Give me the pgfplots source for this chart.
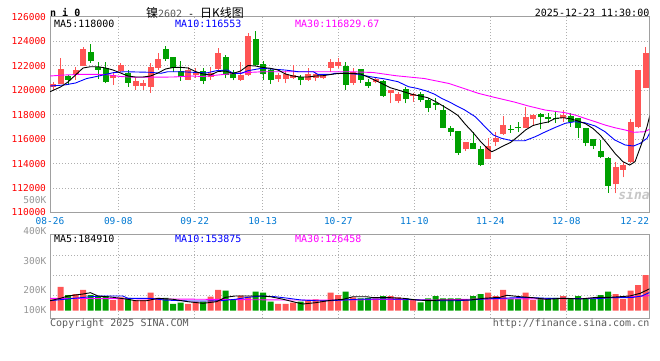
\documentclass[border=0pt]{standalone}
\usepackage{fontspec}
\setmainfont{DejaVu Sans Mono}
\newfontfamily\cjk{Noto Sans CJK SC}
\usepackage{pgfplots}
\usepackage{pgfplotstable}
\pgfplotsset{compat=1.18}
\definecolor{cred}{RGB}{255,85,85}
\definecolor{cgreen}{RGB}{0,160,0}
\definecolor{ticred}{RGB}{255,0,0}
\definecolor{datecol}{RGB}{0,120,210}
\definecolor{framegray}{RGB}{160,160,160}
\definecolor{gridgray}{RGB}{175,175,175}
\definecolor{volgray}{RGB}{150,150,150}
\definecolor{mablue}{RGB}{0,0,255}
\definecolor{mamag}{RGB}{255,0,255}
\definecolor{txtgray}{RGB}{90,90,90}

\pgfplotstableread{
x o h l c
0 120265 120700 120020 120490
1 120510 122640 120480 121740
3 121210 121900 120840 121660
4 122010 123560 121990 123400
8 120980 121520 120450 121270
9 121570 122190 121490 122070
11 120350 120980 120020 120760
12 120350 120840 120020 120620
13 120240 122200 119800 121880
14 121800 123020 121660 122530
18 120840 121930 120820 121660
19 121250 121820 121000 121450
21 121060 121900 120840 121440
22 121740 123430 121660 123020
25 120840 122340 120760 121250
26 121210 124660 121170 124410
30 120940 121440 120700 121250
31 120940 121570 120570 121330
32 121040 122070 120920 121250
34 120840 121820 120760 121330
35 121030 121440 120760 121300
36 120980 121370 120920 121290
37 121840 122560 121520 122310
38 121980 122600 121800 122310
40 120630 121820 120430 121490
43 120700 121110 120570 120920
45 119760 120000 118930 119980
46 119140 119860 118930 119670
48 119550 119800 119060 119730
55 115170 115800 115030 115790
58 114380 116120 114360 115440
59 115790 116610 115440 116120
60 116400 117890 116340 117160
63 116940 118650 116920 117840
64 117650 118060 117160 117980
68 117700 118380 117430 117980
75 112310 114160 111570 113750
76 113480 114160 112880 113890
77 114160 117620 114070 117430
78 116970 121670 116890 121660
79 120160 123510 120150 123070
}\redtab

\pgfplotstableread{
x o h l c
2 121190 121220 120430 120840
5 123130 123820 122230 122390
6 121930 122310 120920 121660
7 121840 122310 120570 120700
10 121410 121660 120290 120630
15 123350 123620 122430 122530
16 122740 122760 121490 121800
17 121600 122390 120780 121060
20 121570 121800 120510 120760
23 122720 122880 120980 121250
24 121490 121660 120800 120980
27 124170 124850 122010 122090
28 122120 122430 120840 121370
29 121660 121860 120510 120840
33 121080 121250 120390 120800
39 121960 122310 119980 120430
41 121710 121730 120620 120840
42 120700 120920 120180 120370
44 120760 120800 119410 119530
47 120080 120270 118930 119280
49 119690 119880 119060 119200
50 119200 119390 118200 118570
51 118980 119340 118380 118790
52 118380 118790 116890 116940
53 116940 117080 116290 116610
54 116670 116680 114700 114890
56 115710 116610 115180 115190
57 115190 115440 113800 113890
61 116830 117160 116530 116750
62 117020 117380 116610 116950
65 118030 118160 116810 117790
66 117850 118110 117300 117650
67 117750 118250 117350 117620
69 117890 118160 117020 117430
70 117700 117720 116120 116940
71 116940 116950 115400 115710
72 116010 116020 115170 115460
73 115030 115930 114430 114560
74 114490 114500 111620 112190
}\greentab

\pgfplotstableread{
x v
0 95000
1 200000
3 139000
4 173000
8 89000
9 111000
11 89000
12 89000
13 150000
14 108000
18 58000
19 75000
21 117000
22 173000
25 125000
26 117000
30 56000
31 56000
32 67000
34 89000
35 95000
36 89000
37 150000
38 131000
40 111000
43 103000
45 122000
46 111000
48 97000
55 89000
58 150000
59 122000
60 173000
63 150000
64 89000
68 122000
75 139000
76 97000
77 167000
78 214000
79 298000
}\vred

\pgfplotstableread{
x v
2 131000
5 131000
6 122000
7 122000
10 108000
15 108000
16 56000
17 67000
20 75000
23 167000
24 89000
27 159000
28 150000
29 75000
33 75000
39 159000
41 103000
42 108000
44 122000
47 103000
49 70000
50 103000
51 122000
52 103000
53 103000
54 103000
56 122000
57 139000
61 97000
62 97000
65 108000
66 108000
67 108000
69 103000
70 122000
71 103000
72 103000
73 131000
74 159000
}\vgreen

\pgfplotsset{
  klstyle/.style={
    scale only axis, anchor=south west,
    xmin=-0.4, xmax=79.507,
    axis line style={framegray, line width=1pt},
    major tick length=0pt,
    xmajorgrids, ymajorgrids,
    grid style={gridgray, line width=0.9pt, dash pattern=on 0.9pt off 2.1pt},
    xtick={8.707,18.893,27.96,38.04,48.173,58.307,68.44},
    scaled y ticks=false, scaled x ticks=false,
  },
  wick/.style={forget plot, draw=none, mark=none,
    error bars/.cd, y dir=plus, y explicit, error mark=none,
    error bar style={draw=#1, line width=1pt, solid}},
  body/.style={forget plot, draw=none, mark=none,
    error bars/.cd, y dir=plus, y explicit, error mark=none,
    error bar style={draw=#1, line width=6pt, solid, line cap=butt}},
}

\begin{document}
\begin{tikzpicture}
\path[use as bounding box] (0pt,0pt) rectangle (660pt,360pt);

% ---------------- price panel ----------------
\begin{axis}[klstyle,
  at={(50pt,147.5pt)}, width=599.3pt, height=195.6pt,
  ymin=110000, ymax=126000,
  ytick={110000,112000,114000,116000,118000,120000,122000,124000,126000},
  yticklabels={110000,112000,114000,116000,118000,120000,122000,124000,126000},
  yticklabel style={text=ticred, font=\fontsize{9.5}{11}\selectfont, xshift=-0.5pt},
  xticklabels={09-08,09-22,10-13,10-27,11-10,11-24,12-08},
  extra x ticks={-0.4,77.56},
  extra x tick labels={08-26,12-22},
  extra x tick style={grid=none},
  xticklabel style={text=datecol, font=\fontsize{9.5}{11}\selectfont, yshift=-1.5pt},
]
\addplot[wick=cred] table[x=x, y=l, y error plus expr={\thisrow{h}-\thisrow{l}}] {\redtab};
\addplot[body=cred] table[x=x, y=o, y error plus expr={\thisrow{c}-\thisrow{o}}] {\redtab};
\addplot[wick=cgreen] table[x=x, y=l, y error plus expr={\thisrow{h}-\thisrow{l}}] {\greentab};
\addplot[body=cgreen] table[x=x, y=c, y error plus expr={\thisrow{o}-\thisrow{c}}] {\greentab};

% MA30
\addplot[mamag, line width=0.9pt, mark=none] coordinates {
(-0.4,121165)(1.5,121247)(4,121304)(7,121288)(9,121124)(11,121059)(16,121083)(18.5,121165)(20,121124)(22,121247)(24,121370)(26,121452)(28,121517)(36,121517)(39.6,121517)(42.7,121452)(45.7,121190)(49.5,120961)(52.8,120552)(55.4,120020)(56.7,119750)(58.5,119472)(61.5,119038)(63.4,118711)(65.6,118384)(68.3,118163)(69.6,117975)(70.9,117705)(72.3,117427)(73.6,117157)(74.9,116936)(76.3,116748)(77.4,116560)(78.9,116609)(79.6,116830)};
% MA10
\addplot[mablue, line width=0.9pt, mark=none] coordinates {
(-0.4,120347)(1.5,120429)(3,120593)(4.5,120961)(5.3,121059)(6.7,121247)(8,121435)(9.5,121517)(13,121468)(14.4,121386)(15.3,121517)(17,121517)(19,121460)(20.5,121420)(21.8,121600)(23.3,121656)(24,121386)(25.1,121386)(26,121599)(27.8,121795)(30.9,121656)(32.7,121517)(34.7,121517)(35.3,121304)(37.1,121304)(37.6,121386)(38.9,121386)(40.7,121304)(42.3,121108)(44.3,120920)(46,120699)(47.4,120290)(48.5,120159)(49.8,119938)(50.9,119668)(51.8,119341)(53,118997)(53.6,118793)(54.9,118384)(56.3,117836)(57.6,117018)(58.7,116339)(59.8,116069)(61.2,115873)(62.9,115873)(64.3,116200)(65.6,116584)(67,116969)(68.3,117296)(69.6,117427)(70.9,117345)(72.3,117075)(73.6,116609)(74.9,115930)(76.3,115521)(77.4,115439)(78.3,115660)(79.2,116069)(79.6,116553)};
% MA5
\addplot[black, line width=0.9pt, mark=none] coordinates {
(-0.4,119881)(1,120265)(2,120674)(3,121247)(4,121820)(5,121926)(6,121926)(7,121820)(8,121656)(9,121411)(10,121165)(11,121083)(12,121083)(13,121165)(14,121411)(15,121738)(16,121861)(17,121877)(18,121820)(19,121533)(20,121329)(21,121247)(22,121533)(23,121574)(24,121370)(25,121574)(26,122024)(27,121983)(28,121861)(29,121795)(30,121656)(31,121329)(32,121165)(33,121083)(34,121083)(35,121165)(36,121190)(37,121288)(38,121370)(39,121386)(40,121386)(41,121329)(42,121083)(43,120797)(44,120511)(45,120200)(46,120020)(47,119832)(48,119644)(49,119529)(50,119382)(51,119079)(52,118711)(53,118343)(54,117934)(55,117198)(56,116544)(57,115808)(58,115194)(58.5,114973)(59,115112)(60,115439)(61,115726)(62,116217)(63,116748)(64,117116)(65,117280)(66,117402)(67,117705)(68,117754)(69,117664)(70,117484)(71,117263)(72,116871)(73,116306)(74,115562)(75,114785)(76,114155)(76.9,113885)(77.6,114155)(78.5,115660)(79.2,117018)(79.6,118000)};
\end{axis}

% ---------------- volume panel ----------------
\begin{axis}[klstyle,
  at={(50pt,41.7pt)}, width=599.3pt, height=83.6pt,
  ymin=-63460, ymax=634600,
  ytick={131000,298000,465000},
  xticklabels={}, yticklabels={},
]
\addplot[ybar, bar width=6pt, bar shift=0pt, fill=cred, draw=none] table[x=x, y=v] {\vred};
\addplot[ybar, bar width=6pt, bar shift=0pt, fill=cgreen, draw=none] table[x=x, y=v] {\vgreen};
% MA30
\addplot[mamag, line width=0.9pt, mark=none] coordinates {
(-0.4,103500)(16,97700)(31,89300)(40,89300)(44,95200)(51,89300)(57,97700)(70,100200)(76,111900)(79.6,126100)};
% MA10
\addplot[mablue, line width=0.9pt, mark=none] coordinates {
(-0.4,83500)(1.5,95200)(5,116900)(6.6,122700)(9.3,122700)(10,103500)(13,103500)(14.8,89300)(18,81000)(20.5,81000)(22.4,83500)(24.3,95200)(26,111900)(27.8,122700)(29.6,116900)(31.4,103500)(33.1,89300)(35,83500)(36.9,83500)(38.7,89300)(40.4,95200)(42.7,97700)(45,97700)(47.1,95200)(48.9,89300)(51.6,83500)(53.8,83500)(55.6,89300)(57.4,97700)(59.6,103500)(61.8,108600)(64,108600)(65.8,103500)(68,103500)(70.3,100200)(72.5,100200)(74.3,108600)(76.1,108600)(77.4,111900)(78.5,122700)(79.6,153900)};
% MA5
\addplot[black, line width=0.9pt, mark=none] coordinates {
(-0.4,83500)(1,103500)(2,122700)(4,139400)(5,150300)(6,122700)(8,111900)(10,95200)(11,83500)(12.5,83500)(14,103500)(16,95200)(18,75200)(20,61800)(21.8,75200)(23,111900)(24.3,122700)(26,122700)(27.8,122700)(29,116900)(30.7,95200)(32,75200)(33.3,55900)(35,66800)(37,86800)(38.7,95200)(40,116900)(41.8,116900)(42.7,108600)(45,108600)(46.7,103500)(48.5,89300)(50.3,83500)(51.6,89300)(53.8,89300)(55.6,89300)(57.4,103500)(59.6,111900)(60.5,128600)(62.3,116900)(64,108600)(65.8,95200)(68,103500)(70.3,97700)(72.5,111900)(74.3,111900)(75.6,116900)(76.9,122700)(78.3,145300)(79.6,184900)};
\end{axis}

% ---------------- texts ----------------
\begin{scope}[x=1pt,y=1pt]
\node[anchor=west, inner sep=0pt, font=\fontsize{10}{12}\selectfont\bfseries] at (50,347.5) {n i 0};
\node[anchor=center, inner sep=0pt] at (195,347.5) {{\cjk\fontsize{12}{14}\selectfont 镍}{\fontsize{10}{12}\selectfont\color{txtgray}2602}{\fontsize{10}{12}\selectfont{} - }{\cjk\fontsize{12}{14}\selectfont 日K线图}};
\node[anchor=east, inner sep=0pt, font=\fontsize{10}{12}\selectfont] at (649.5,347.5) {2025-12-23 11:30:00};

\node[anchor=west, inner sep=0pt, font=\fontsize{10}{12}\selectfont, text=black] at (54,336.5) {MA5:118000};
\node[anchor=west, inner sep=0pt, font=\fontsize{10}{12}\selectfont, text=mablue] at (175,336.5) {MA10:116553};
\node[anchor=west, inner sep=0pt, font=\fontsize{10}{12}\selectfont, text=mamag] at (295,336.5) {MA30:116829.67};

\node[anchor=west, inner sep=0pt, font=\fontsize{10}{12}\selectfont, text=black] at (54,121.5) {MA5:184910};
\node[anchor=west, inner sep=0pt, font=\fontsize{10}{12}\selectfont, text=mablue] at (175,121.5) {MA10:153875};
\node[anchor=west, inner sep=0pt, font=\fontsize{10}{12}\selectfont, text=mamag] at (295,121.5) {MA30:126458};

\node[anchor=east, inner sep=0pt, font=\fontsize{9.5}{11}\selectfont, text=volgray] at (46.5,160) {500K};
\node[anchor=east, inner sep=0pt, font=\fontsize{9.5}{11}\selectfont, text=volgray] at (46.5,129) {400K};
\node[anchor=east, inner sep=0pt, font=\fontsize{9.5}{11}\selectfont, text=volgray] at (46.5,99) {300K};
\node[anchor=east, inner sep=0pt, font=\fontsize{9.5}{11}\selectfont, text=volgray] at (46.5,70) {200K};
\node[anchor=east, inner sep=0pt, font=\fontsize{9.5}{11}\selectfont, text=volgray] at (46.5,50) {100K};

\node[anchor=west, inner sep=0pt, font=\fontsize{10}{12}\selectfont, text=txtgray] at (50,36.7) {Copyright 2025 SINA.COM};
\node[anchor=east, inner sep=0pt, font=\fontsize{10}{12}\selectfont, text=txtgray] at (649.5,36.7) {http://finance.sina.com.cn};

\node[inner sep=0pt, font=\fontsize{13}{14}\selectfont\bfseries\itshape, text=black!22] at (634,166) {sina};
\end{scope}
\end{tikzpicture}
\end{document}
